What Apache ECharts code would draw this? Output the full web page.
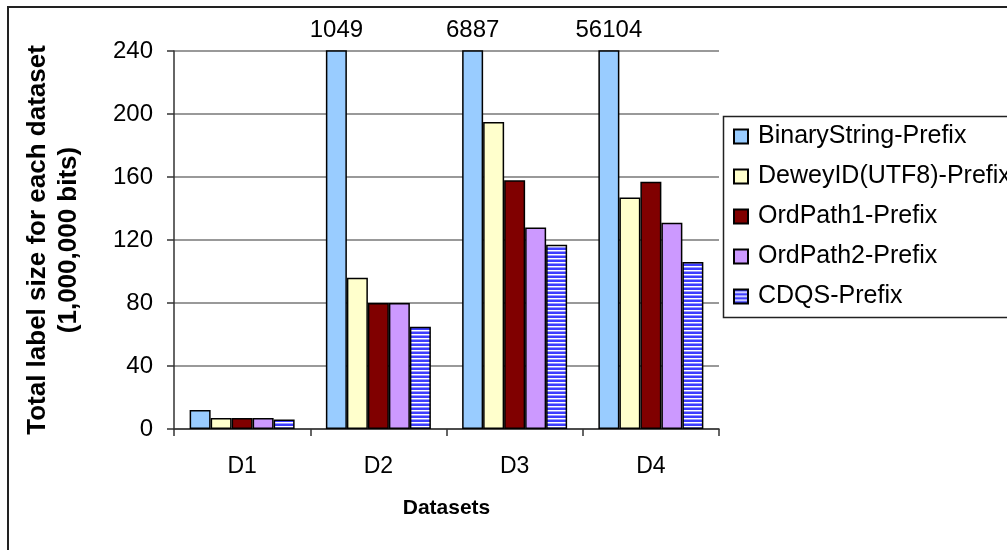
<!DOCTYPE html>
<html>
<head>
<meta charset="utf-8">
<script src="https://cdn.jsdelivr.net/npm/echarts@6/dist/echarts.min.js"></script>
<style>
  html, body { margin: 0; padding: 0; background: #fff; }
  #chart { width: 1007px; height: 550px; }
</style>
</head>
<body>
<div id="chart"></div>
<script>
// Total label size per dataset (in 1,000,000 bits)
const categories = ['D1', 'D2', 'D3', 'D4'];
const seriesNames = ['BinaryString-Prefix', 'DeweyID(UTF8)-Prefix', 'OrdPath1-Prefix', 'OrdPath2-Prefix', 'CDQS-Prefix'];
const binaryString = [12, 1049, 6887, 56104];
const deweyID = [7, 96, 195, 147];
const ordPath1 = [7, 80, 158, 157];
const ordPath2 = [7, 80, 128, 131];
const cdqs = [6, 65, 117, 106];
const yTicks = [0, 40, 80, 120, 160, 200, 240];

const FONT = '"Liberation Sans", Arial, sans-serif';

// Horizontal stripe fill for the CDQS bars
function stripePattern() {
  const c = document.createElement('canvas');
  c.width = 4; c.height = 4;
  const g = c.getContext('2d');
  g.fillStyle = '#3d3dff'; g.fillRect(0, 0, 4, 2);
  g.fillStyle = '#ffffff'; g.fillRect(0, 2, 4, 1);
  g.fillStyle = '#9a9aff'; g.fillRect(0, 3, 4, 1);
  return { image: c, repeat: 'repeat' };
}

const fills = ['#99ccff', '#ffffcc', '#800000', '#cc99ff', stripePattern()];
const values = [binaryString, deweyID, ordPath1, ordPath2, cdqs];
const yMax = yTicks[yTicks.length - 1];

const chart = echarts.init(document.getElementById('chart'), null, { renderer: 'canvas' });

chart.setOption({
  animation: false,
  backgroundColor: '#fff',
  textStyle: { fontFamily: FONT },
  grid: { left: 174, top: 51, right: 288, bottom: 121, containLabel: false },
  legend: {
    orient: 'vertical',
    left: 733,
    top: 124,
    padding: 0,
    itemWidth: 14,
    itemHeight: 14,
    itemGap: 15,
    icon: 'rect',
    textStyle: { fontFamily: FONT, fontSize: 25, color: '#000', padding: [0, 0, 0, 5] },
    data: seriesNames
  },
  xAxis: {
    type: 'category',
    data: categories,
    name: 'Datasets',
    nameLocation: 'middle',
    nameGap: 69,
    nameTextStyle: { fontFamily: FONT, fontSize: 21, fontWeight: 'bold', color: '#000' },
    axisLine: { lineStyle: { color: '#333', width: 1.5 } },
    axisTick: { show: true, length: 7, lineStyle: { color: '#333', width: 1.5 } },
    axisLabel: { fontFamily: FONT, fontSize: 23, color: '#000', margin: 26 },
    splitLine: { show: false }
  },
  yAxis: {
    type: 'value',
    min: 0,
    max: yMax,
    interval: 40,
    name: 'Total label size for each dataset\n(1,000,000 bits)',
    nameLocation: 'middle',
    nameRotate: 90,
    nameGap: 90,
    nameTextStyle: { fontFamily: FONT, fontSize: 26, fontWeight: 'bold', color: '#000', lineHeight: 31, align: 'center' },
    axisLine: { show: true, lineStyle: { color: '#333', width: 1.5 } },
    axisTick: { show: true, length: 7, lineStyle: { color: '#333', width: 1.5 } },
    axisLabel: { fontFamily: FONT, fontSize: 24, color: '#000', margin: 21 },
    splitLine: { show: true, lineStyle: { color: '#777', width: 1.5 } }
  },
  series: seriesNames.map((name, i) => ({
    name,
    type: 'bar',
    data: values[i],
    barWidth: 21,
    barGap: '0%',
    clip: true,
    itemStyle: { color: fills[i], borderColor: '#000', borderWidth: 1.5 },
    label: {
      show: true,
      position: 'top',
      distance: 8,
      fontFamily: FONT,
      fontSize: 24,
      color: '#000',
      formatter: p => (p.value > yMax ? String(p.value) : '')
    }
  })),
  graphic: [
    // outer chart frame
    { type: 'rect', silent: true, z: 100,
      shape: { x: 8, y: 7, width: 1100, height: 600 },
      style: { fill: null, stroke: '#222', lineWidth: 2 } },
    // legend frame
    { type: 'rect', silent: true, z: 100,
      shape: { x: 723.5, y: 116.5, width: 400, height: 201 },
      style: { fill: null, stroke: '#222', lineWidth: 1.5 } }
  ]
});
</script>
</body>
</html>
